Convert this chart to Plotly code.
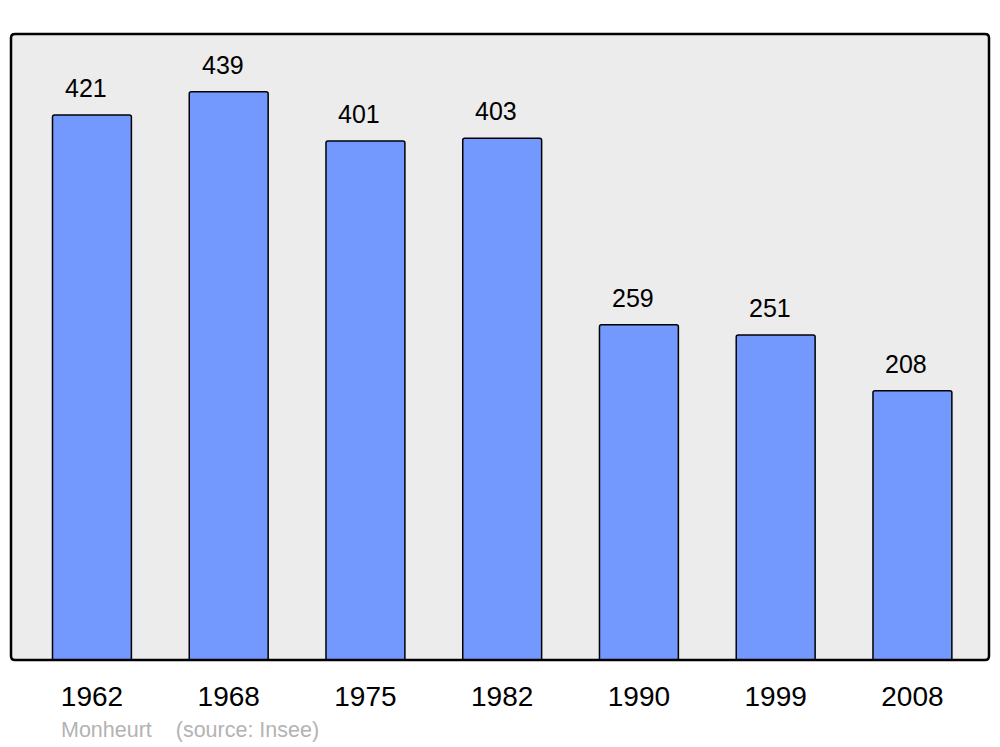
import plotly.graph_objects as go

years = ["1962", "1968", "1975", "1982", "1990", "1999", "2008"]
population = [421, 439, 401, 403, 259, 251, 208]
footer = "Monheurt    (source: Insee)"

W, H = 1000, 747
ml, mr, mt, mb = 11, 11, 34, 87
pw, ph = W - ml - mr, H - mt - mb

xs = list(range(len(years)))

fig = go.Figure()
fig.add_trace(go.Bar(
    x=xs, y=population, width=0.577,
    marker=dict(color="#7399ff", line=dict(color="#000000", width=1.5)),
    hoverinfo="skip",
))

for x, v in zip(xs, population):
    fig.add_annotation(x=x, y=v, text=str(v), showarrow=False,
                       xanchor="center", yanchor="bottom", yshift=11, xshift=-6,
                       font=dict(family="Liberation Sans, Arial", size=25, color="#000"))

# rounded frame
r = 4
rx, ry = r / pw, r / ph
path = (f"M {rx},0 L {1-rx},0 Q 1,0 1,{ry} L 1,{1-ry} Q 1,1 {1-rx},1 "
        f"L {rx},1 Q 0,1 0,{1-ry} L 0,{ry} Q 0,0 {rx},0 Z")
fig.add_shape(type="path", path=path, xref="paper", yref="paper",
              fillcolor="#ececec", line=dict(width=0), layer="below")
fig.add_shape(type="path", path=path, xref="paper", yref="paper",
              fillcolor="rgba(0,0,0,0)", line=dict(color="#000", width=2.5), layer="above")

fig.add_annotation(x=(59 - ml) / pw, y=-(730 - mt - ph) / ph, xref="paper", yref="paper",
                   text=footer, showarrow=False, xanchor="left", yanchor="middle",
                   font=dict(family="Liberation Sans, Arial", size=21.5, color="#b3b3b3"))

fig.update_layout(
    width=W, height=H,
    margin=dict(l=ml, r=mr, t=mt, b=mb),
    paper_bgcolor="white", plot_bgcolor="rgba(0,0,0,0)",
    showlegend=False, barcornerradius=2,
    xaxis=dict(range=[-0.592, 6.56], tickvals=xs, ticktext=years,
               showgrid=False, zeroline=False, showline=False, ticks="",
               ticklabelstandoff=17,
               tickfont=dict(family="Liberation Sans, Arial", size=28, color="#000")),
    yaxis=dict(range=[0, 483.6], showgrid=False, zeroline=False,
               showticklabels=False, ticks="", showline=False),
)

fig.write_html("out.html", config={"displayModeBar": False},
               post_script="document.body.style.margin='0';")
